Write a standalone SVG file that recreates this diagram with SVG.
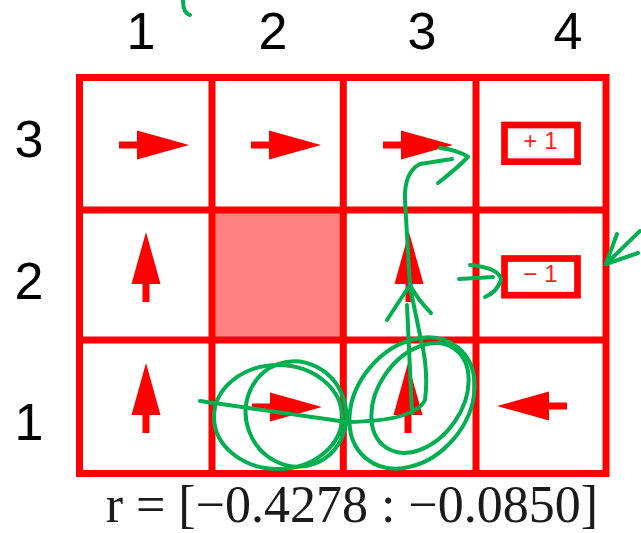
<svg xmlns="http://www.w3.org/2000/svg" width="641" height="533" viewBox="0 0 641 533">
<style>
.lbl{font-family:"Liberation Sans",Arial,sans-serif;font-size:52px;fill:#000;text-anchor:middle}
.grid{fill:none;stroke:#ff0000;stroke-width:7}
.box{fill:#fff;stroke:#ff0000;stroke-width:6.7}
.rw{font-family:"Liberation Sans",Arial,sans-serif;font-size:24px;fill:#ff2020;text-anchor:middle}
.ink{fill:none;stroke:#00b050;stroke-width:4;stroke-linecap:round;stroke-linejoin:round}
.arr{fill:#ff0000}
.cap{font-family:"Liberation Serif","Times New Roman",serif;font-size:52px;fill:#1a1a1a;text-anchor:end}
</style>
<defs>
<polygon id="arrow" class="arr" points="-35,-3.5 -17,-3.5 -17,-14.5 35,0 -17,14.5 -17,3.5 -35,3.5"/>
</defs>
<rect width="641" height="533" fill="#fff"/>

<g id="col-labels">
<text class="lbl" x="141" y="49">1</text>
<text class="lbl" x="273" y="49">2</text>
<text class="lbl" x="422" y="49">3</text>
<text class="lbl" x="568" y="49">4</text>
</g>
<g id="row-labels">
<text class="lbl" x="29" y="157">3</text>
<text class="lbl" x="29" y="299">2</text>
<text class="lbl" x="29" y="440">1</text>
</g>

<g id="grid">
<rect id="wall" x="212" y="210" width="131" height="130" fill="#ff8080"/>
<rect class="grid" x="79.5" y="77.5" width="526.5" height="396"/>
<line class="grid" x1="212" y1="77.5" x2="212" y2="473.5"/>
<line class="grid" x1="343.3" y1="77.5" x2="343.3" y2="473.5"/>
<line class="grid" x1="476" y1="77.5" x2="476" y2="473.5"/>
<line class="grid" x1="79.5" y1="210" x2="606" y2="210"/>
<line class="grid" x1="79.5" y1="340" x2="606" y2="340"/>
</g>

<g id="cell-1-3"><use href="#arrow" transform="translate(154,145)"/></g>
<g id="cell-2-3"><use href="#arrow" transform="translate(286,145)"/></g>
<g id="cell-3-3"><use href="#arrow" transform="translate(418,145)"/></g>
<g id="cell-4-3"><rect class="box" x="504.5" y="125" width="73" height="36.7"/><text class="rw" x="544" y="149" letter-spacing="7">+1</text></g>
<g id="cell-1-2"><use href="#arrow" transform="translate(146,267) rotate(-90)"/></g>
<g id="cell-3-2"><use href="#arrow" transform="translate(409,267) rotate(-90)"/></g>
<g id="cell-4-2"><rect class="box" x="504.5" y="258.5" width="73" height="36.7"/><text class="rw" x="544" y="282" letter-spacing="7">−1</text></g>
<g id="cell-1-1"><use href="#arrow" transform="translate(146,398) rotate(-90)"/></g>
<g id="cell-2-1"><use href="#arrow" transform="translate(287,407)"/></g>
<g id="cell-3-1"><use href="#arrow" transform="translate(408,398) rotate(-90)"/></g>
<g id="cell-4-1"><use href="#arrow" transform="translate(532,406) rotate(180)"/></g>

<text id="caption" class="cap" x="598" y="522">r = [−0.4278 : −0.0850]</text>

<g id="annotations">
<path class="ink" d="M183,1 Q183,13 190,15"/>
<ellipse class="ink" cx="278" cy="417" rx="64" ry="52"/>
<ellipse class="ink" cx="296" cy="414" rx="50" ry="53" transform="rotate(-20 296 414)"/>
<ellipse class="ink" cx="412" cy="403" rx="72" ry="55" transform="rotate(-50 412 403)"/>
<ellipse class="ink" cx="420" cy="398" rx="60" ry="42" transform="rotate(-55 420 398)"/>
<path class="ink" d="M200,401 L347,422 Q415,421 425,400 Q429,370 420,335 L410,287 L405,200 Q404,172 420,164 L452,159"/>
<path class="ink" d="M407,305 L412,413"/>
<path class="ink" d="M387,320 Q400,300 410,285 Q418,300 431,313"/>
<path class="ink" d="M440,148 Q458,150 468,157 Q455,170 438,183"/>
<path class="ink" d="M459,279 L493,277"/>
<path class="ink" d="M470,265 Q500,268 501,280 Q497,292 485,297"/>
<path class="ink" d="M640,231 L606,264"/>
<path class="ink" d="M617,234 Q611,250 606,264 L638,253"/>
</g>
</svg>
